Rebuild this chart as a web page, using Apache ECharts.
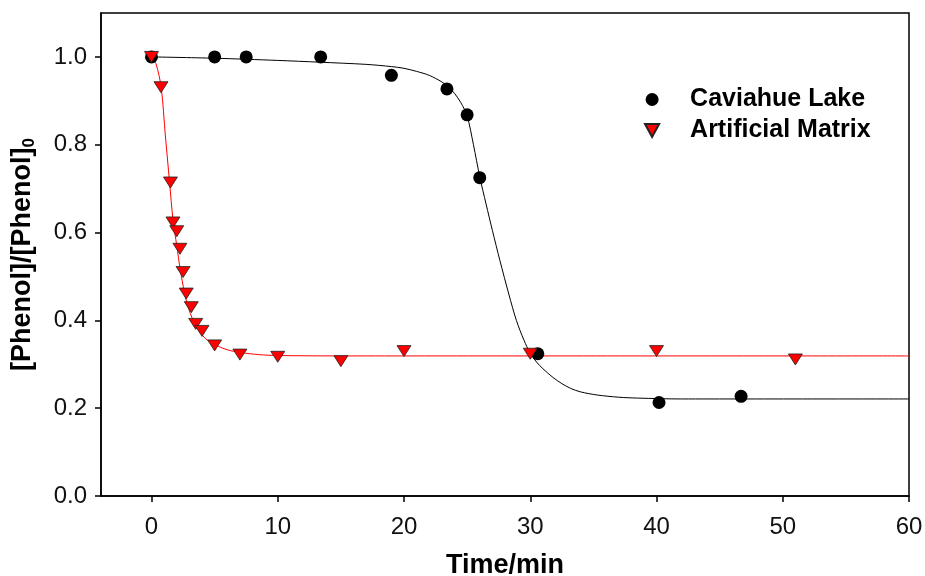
<!DOCTYPE html>
<html>
<head>
<meta charset="utf-8">
<title>Phenol degradation</title>
<script src="https://cdn.jsdelivr.net/npm/echarts/dist/echarts.min.js"></script>
<style>
  html, body { margin: 0; padding: 0; background: #fff; }
  #main { width: 925px; height: 576px; }
</style>
</head>
<body>
<div id="main"></div>
<script>
// measured points, Caviahue Lake (black circles)
var cavX = [0, 5, 7.5, 13.4, 19, 23.4, 25, 26, 30.6, 40.2, 46.7]
var cavY = [1.0, 1.0, 1.0, 1.0, 0.958, 0.927, 0.868, 0.725, 0.324, 0.213, 0.227]

// measured points, Artificial Matrix (red triangles)
var artX = [0, 0.75, 1.5, 1.7, 2.0, 2.25, 2.5, 2.75, 3.15, 3.5, 4.0, 5, 7, 10, 15, 20, 30, 40, 51]
var artY = [1.0, 0.931, 0.714, 0.623, 0.603, 0.563, 0.51, 0.461, 0.43, 0.392, 0.376, 0.343, 0.322, 0.317, 0.307, 0.33, 0.324, 0.33, 0.311]

// fitted curves
var cavFitX = [0, 5, 10, 13.3, 17, 19, 20, 21, 22, 23, 23.5, 24, 24.5, 25, 25.5, 26, 26.5, 27, 27.6, 28.3, 28.9, 29.5, 30, 30.5, 31, 31.8, 32.5, 33.2, 34, 35.3, 37, 38.5, 42, 60]
var cavFitY = [1.0, 0.997, 0.992, 0.988, 0.983, 0.978, 0.974, 0.967, 0.958, 0.943, 0.932, 0.917, 0.896, 0.866, 0.80, 0.727, 0.665, 0.605, 0.536, 0.46, 0.40, 0.355, 0.325, 0.305, 0.29, 0.27, 0.256, 0.245, 0.237, 0.23, 0.225, 0.223, 0.221, 0.221]
var artFitX = [0, 0.35, 0.77, 1.1, 1.43, 1.7, 2.0, 2.28, 2.6, 2.88, 3.3, 3.8, 4.3, 5, 6, 7, 8.5, 10, 15, 60]
var artFitY = [1.0, 0.985, 0.93, 0.82, 0.715, 0.63, 0.57, 0.515, 0.465, 0.432, 0.40, 0.375, 0.358, 0.345, 0.333, 0.327, 0.322, 0.32, 0.319, 0.319]

// tick labels
var xTicks = [0, 10, 20, 30, 40, 50, 60]
var yTicks = [0, 0.2, 0.4, 0.6, 0.8, 1.0]

var seriesNames = ['Caviahue Lake', 'Artificial Matrix']
var downTriangle = 'path://M0,0L12,0L6,11Z'
var font = '"Liberation Sans", Arial, Helvetica, sans-serif'

function pairs(xs, ys) {
  return xs.map(function (x, i) { return [x, ys[i]] })
}

var chart = echarts.init(document.getElementById('main'), null, { renderer: 'canvas' })

var option = {
  backgroundColor: '#fff',
  animation: false,
  textStyle: { fontFamily: font },
  grid: {
    left: 101,
    right: 16,
    top: 13,
    bottom: 80,
    outerBoundsMode: 'none',
    containLabel: false,
    show: true,
    borderColor: '#000',
    borderWidth: 1.5,
    backgroundColor: 'transparent'
  },
  legend: {
    orient: 'vertical',
    left: 639,
    top: 82,
    itemWidth: 66,
    itemHeight: 13,
    itemGap: 6,
    data: seriesNames,
    textStyle: {
      fontFamily: font,
      fontSize: 25,
      fontWeight: 'bold',
      color: '#000',
      lineHeight: 25
    }
  },
  xAxis: {
    type: 'value',
    min: -4,
    max: 60,
    name: 'Time/min',
    nameLocation: 'middle',
    nameGap: 56,
    nameTextStyle: { fontFamily: font, fontSize: 27, fontWeight: 'bold', color: '#000' },
    axisLine: { show: true, onZero: false, lineStyle: { color: '#000', width: 1.5 } },
    axisTick: { show: true, inside: false, length: 6, customValues: xTicks, lineStyle: { color: '#000', width: 1.5 } },
    axisLabel: { customValues: xTicks, fontSize: 24, color: '#111', margin: 19 },
    splitLine: { show: false }
  },
  yAxis: {
    type: 'value',
    min: 0,
    max: 1.1,
    name: '[Phenol]/[Phenol]{sub|0}',
    nameLocation: 'middle',
    nameGap: 63,
    nameTextStyle: {
      fontFamily: font,
      fontSize: 27,
      fontWeight: 'bold',
      color: '#000',
      lineHeight: 31,
      rich: {
        sub: { fontFamily: font, fontSize: 17, fontWeight: 'bold', color: '#000', verticalAlign: 'bottom', lineHeight: 31 }
      }
    },
    axisLine: { show: true, onZero: false, lineStyle: { color: '#000', width: 1.5 } },
    axisTick: { show: true, inside: false, length: 6, customValues: yTicks, lineStyle: { color: '#000', width: 1.5 } },
    axisLabel: {
      customValues: yTicks,
      fontSize: 24,
      color: '#111',
      margin: 14,
      formatter: function (v) { return v.toFixed(1) }
    },
    splitLine: { show: false }
  },
  series: [
    {
      name: 'Caviahue fit',
      type: 'line',
      data: pairs(cavFitX, cavFitY),
      smooth: 0.3,
      showSymbol: false,
      silent: true,
      lineStyle: { color: '#000', width: 1 },
      z: 1
    },
    {
      name: 'Artificial fit',
      type: 'line',
      data: pairs(artFitX, artFitY),
      smooth: 0.3,
      showSymbol: false,
      silent: true,
      lineStyle: { color: '#ff0000', width: 1 },
      z: 1
    },
    {
      name: seriesNames[0],
      type: 'scatter',
      data: pairs(cavX, cavY),
      symbol: 'circle',
      symbolSize: 13,
      itemStyle: { color: '#000', opacity: 1 },
      z: 3
    },
    {
      name: seriesNames[1],
      type: 'scatter',
      data: pairs(artX, artY),
      symbol: downTriangle,
      symbolSize: [14, 12],
      symbolKeepAspect: true,
      itemStyle: { color: '#ff0000', borderColor: '#222', borderWidth: 0.8, opacity: 1 },
      z: 4
    }
  ]
}

chart.setOption(option)
</script>
</body>
</html>
